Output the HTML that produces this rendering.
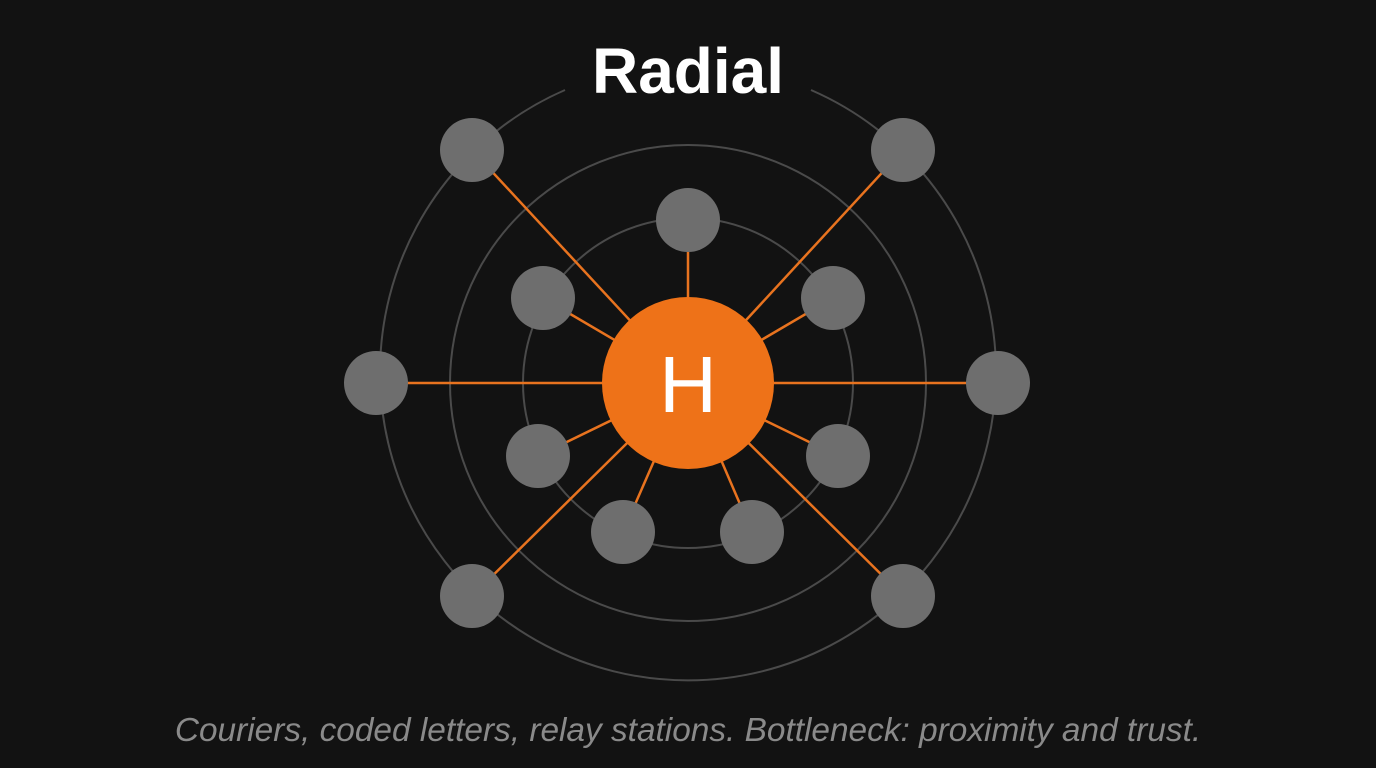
<!DOCTYPE html>
<html><head><meta charset="utf-8"><style>
html,body{margin:0;padding:0;background:#121212;}
svg{display:block;}
</style></head><body>
<svg width="1376" height="768" viewBox="0 0 1376 768" xmlns="http://www.w3.org/2000/svg">
<rect width="1376" height="768" fill="#121212"/>
<g fill="none" stroke="#4a4a4a" stroke-width="2">
<circle cx="688" cy="383" r="165"/>
<circle cx="688" cy="383" r="238"/>
<path d="M565 90 A308 308 0 1 0 811 90"/>
</g>
<g stroke="#e8731f" stroke-width="2.5">
<line x1="688" y1="383" x2="688" y2="220"/>
<line x1="688" y1="383" x2="543" y2="298"/>
<line x1="688" y1="383" x2="833" y2="298"/>
<line x1="688" y1="383" x2="538" y2="456"/>
<line x1="688" y1="383" x2="838" y2="456"/>
<line x1="688" y1="383" x2="623" y2="532"/>
<line x1="688" y1="383" x2="752" y2="532"/>
<line x1="688" y1="383" x2="376" y2="383"/>
<line x1="688" y1="383" x2="998" y2="383"/>
<line x1="688" y1="383" x2="472" y2="150"/>
<line x1="688" y1="383" x2="903" y2="150"/>
<line x1="688" y1="383" x2="472" y2="596"/>
<line x1="688" y1="383" x2="903" y2="596"/>
</g>
<g fill="#6e6e6e">
<circle cx="688" cy="220" r="32"/>
<circle cx="543" cy="298" r="32"/>
<circle cx="833" cy="298" r="32"/>
<circle cx="538" cy="456" r="32"/>
<circle cx="838" cy="456" r="32"/>
<circle cx="623" cy="532" r="32"/>
<circle cx="752" cy="532" r="32"/>
<circle cx="376" cy="383" r="32"/>
<circle cx="998" cy="383" r="32"/>
<circle cx="472" cy="150" r="32"/>
<circle cx="903" cy="150" r="32"/>
<circle cx="472" cy="596" r="32"/>
<circle cx="903" cy="596" r="32"/>
</g>
<circle cx="688" cy="383" r="86" fill="#ee7218"/>
<text x="688" y="412" text-anchor="middle" font-family="Liberation Sans, sans-serif" font-size="80" fill="#ffffff">H</text>
<text x="688" y="93" text-anchor="middle" font-family="Liberation Sans, sans-serif" font-size="64" font-weight="bold" fill="#ffffff">Radial</text>
<text x="688" y="741" text-anchor="middle" font-family="Liberation Sans, sans-serif" font-size="33.4" font-style="italic" fill="#8a8a8a">Couriers, coded letters, relay stations. Bottleneck: proximity and trust.</text>
</svg>
</body></html>
